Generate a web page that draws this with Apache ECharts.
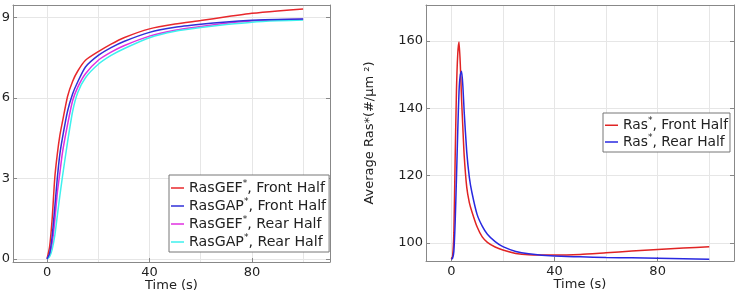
<!DOCTYPE html>
<html>
<head>
    <meta charset="utf-8">
    <title>Ras curves</title>
    <script src="https://cdn.jsdelivr.net/npm/echarts@6/dist/echarts.min.js"></script>
    <style>
        html, body { margin: 0; padding: 0; background: #fff; }
        #main { width: 735px; height: 291px; }
    </style>
</head>
<body>
<div id="main"></div>
<script>
    // left panel: time (s) and the four enzyme curves
    var timeL = [0, 1, 2, 3, 4, 5, 6, 8, 10, 12, 15, 20, 25, 30, 40, 50, 60, 70, 80, 90, 100];
    var gefFront = [0, 0.45, 1.5, 3.0, 3.9, 4.6, 5.1, 6.05, 6.62, 7.0, 7.4, 7.72, 8.0, 8.24, 8.57, 8.75, 8.88, 9.02, 9.15, 9.24, 9.31];
    var gapFront = [0, 0.2, 0.85, 1.9, 3.0, 3.9, 4.5, 5.5, 6.15, 6.6, 7.15, 7.58, 7.87, 8.1, 8.44, 8.63, 8.74, 8.83, 8.89, 8.92, 8.94];
    var gefRear = [0, 0.15, 0.55, 1.4, 2.45, 3.2, 3.95, 5.0, 5.9, 6.4, 6.9, 7.4, 7.7, 7.94, 8.3, 8.52, 8.66, 8.78, 8.86, 8.91, 8.93];
    var gapRear = [0, 0.08, 0.35, 0.85, 1.6, 2.35, 3.05, 4.35, 5.5, 6.2, 6.75, 7.25, 7.58, 7.83, 8.24, 8.48, 8.62, 8.73, 8.82, 8.87, 8.9];

    // right panel: average Ras* in each half
    var timeR = [0, 0.5, 1, 1.5, 2, 2.5, 3, 3.5, 4, 4.5, 5, 6, 7, 8, 10, 12, 14, 17, 20, 25, 30, 40, 50, 60, 70, 80, 90, 100];
    var rasFront = [95.2, 96.0, 103, 125, 145, 156, 159.7, 153, 142.5, 134, 126, 116.5, 112, 109.3, 104.8, 101.8, 100.2, 98.8, 97.9, 96.9, 96.5, 96.4, 96.6, 97.1, 97.6, 98.1, 98.5, 98.9];
    var rasRear = [95.2, 95.5, 97.5, 106, 119, 133, 145, 150, 151, 146.5, 139, 127, 119.5, 115, 108.5, 105, 102.6, 100.4, 98.9, 97.5, 96.8, 96.1, 95.9, 95.7, 95.6, 95.5, 95.35, 95.2];

    var ticksX = [0, 40, 80];
    var gridX = [0, 20, 40, 60, 80, 100];
    var ticksL = [0, 3, 6, 9];
    var ticksR = [100, 120, 140, 160];

    function pairs(xs, ys) {
        return xs.map(function (x, i) { return [x, ys[i]]; });
    }

    var font = 'DejaVu Sans';
    var frame = '#888';
    var gridCol = '#e6e6e6';

    function bottomAxis(gi, min, max) {
        return {
            type: 'value', gridIndex: gi, min: min, max: max,
            name: 'Time (s)', nameLocation: 'middle', nameGap: 17, nameMoveOverlap: false,
            nameTextStyle: {fontFamily: font, fontSize: 13, color: '#222'},
            axisLine: {show: true, onZero: false, lineStyle: {color: frame}},
            axisTick: {inside: true, length: 4, customValues: ticksX, lineStyle: {color: frame}},
            axisLabel: {customValues: ticksX, margin: 4, fontFamily: font, fontSize: 13, color: '#222'},
            splitLine: {show: false}
        };
    }
    function topAxis(gi, min, max) {
        return {
            type: 'value', gridIndex: gi, position: 'top', min: min, max: max,
            axisLine: {show: true, onZero: false, lineStyle: {color: frame}},
            axisTick: {show: false, customValues: gridX},
            axisLabel: {show: false},
            splitLine: {show: true, lineStyle: {color: gridCol}}
        };
    }
    function leftAxis(gi, min, max, ticks, name) {
        return {
            type: 'value', gridIndex: gi, min: min, max: max,
            name: name || '', nameLocation: 'middle', nameGap: 50,
            nameTextStyle: {fontFamily: font, fontSize: 13, color: '#222'},
            axisLine: {show: true, onZero: false, lineStyle: {color: frame}},
            axisTick: {inside: true, length: 4, customValues: ticks, lineStyle: {color: frame}},
            axisLabel: {customValues: ticks, margin: 3, fontFamily: font, fontSize: 13, color: '#222'},
            splitLine: {show: true, lineStyle: {color: gridCol}}
        };
    }
    function rightAxis(gi, min, max, ticks) {
        return {
            type: 'value', gridIndex: gi, position: 'right', min: min, max: max,
            axisLine: {show: true, onZero: false, lineStyle: {color: frame}},
            axisTick: {inside: true, length: 4, customValues: ticks, lineStyle: {color: frame}},
            axisLabel: {show: false},
            splitLine: {show: false}
        };
    }

    function line(name, xi, yi, data, color) {
        return {
            name: name, type: 'line', xAxisIndex: xi, yAxisIndex: yi,
            data: data, symbol: 'none', smooth: 0.2,
            lineStyle: {color: color, width: 1.5}, itemStyle: {color: color}
        };
    }

    function legendText(size, lh) {
        return {
            fontFamily: font, fontSize: size, color: '#222',
            rich: {
                t: {fontFamily: font, fontSize: size, color: '#222', lineHeight: lh},
                s: {fontFamily: font, fontSize: 9, color: '#222', lineHeight: lh, verticalAlign: 'top'}
            }
        };
    }
    function richName(name) {
        var parts = name.split('*');
        return '{t|' + parts[0] + '}{s|*}{t|' + parts[1] + '}';
    }

    var chart = echarts.init(document.getElementById('main'), null, {renderer: 'canvas'});
    chart.setOption({
        animation: false,
        backgroundColor: '#fff',
        grid: [
            {left: 13, top: 5, width: 317, height: 257, outerBoundsMode: 'none', containLabel: false},
            {left: 426, top: 5, width: 308, height: 256, outerBoundsMode: 'none', containLabel: false}
        ],
        xAxis: [
            bottomAxis(0, -13.3, 110.5), topAxis(0, -13.3, 110.5),
            bottomAxis(1, -9.8, 109.6), topAxis(1, -9.8, 109.6)
        ],
        yAxis: [
            leftAxis(0, -0.12, 9.46, ticksL), rightAxis(0, -0.12, 9.46, ticksL),
            leftAxis(1, 94.65, 170.7, ticksR, 'Average Ras*(#/μm ²)'), rightAxis(1, 94.65, 170.7, ticksR)
        ],
        legend: [
            {
                data: ['RasGEF*, Front Half', 'RasGAP*, Front Half', 'RasGEF*, Rear Half', 'RasGAP*, Rear Half'],
                orient: 'vertical', left: 169, top: 175,
                icon: 'rect', itemWidth: 13, itemHeight: 1.5, itemGap: 2,
                padding: [4, 3, 3, 2],
                backgroundColor: '#fff', borderColor: '#777', borderWidth: 1, borderRadius: 0,
                formatter: richName, textStyle: legendText(14.2, 18)
            },
            {
                data: ['Ras*, Front Half', 'Ras*, Rear Half'],
                orient: 'vertical', left: 603, top: 113,
                icon: 'rect', itemWidth: 13, itemHeight: 1.5, itemGap: 1,
                padding: [3.5, 2, 3, 2],
                backgroundColor: '#fff', borderColor: '#777', borderWidth: 1, borderRadius: 0,
                formatter: richName, textStyle: legendText(13.8, 17.5)
            }
        ],
        series: [
            line('RasGEF*, Front Half', 0, 0, pairs(timeL, gefFront), '#e8282c'),
            line('RasGEF*, Rear Half', 0, 0, pairs(timeL, gefRear), '#e030e0'),
            line('RasGAP*, Rear Half', 0, 0, pairs(timeL, gapRear), '#3ef0ee'),
            line('RasGAP*, Front Half', 0, 0, pairs(timeL, gapFront), '#3030d8'),
            line('Ras*, Front Half', 2, 2, pairs(timeR, rasFront), '#e02424'),
            line('Ras*, Rear Half', 2, 2, pairs(timeR, rasRear), '#2828e0')
        ]
    });
</script>
</body>
</html>
